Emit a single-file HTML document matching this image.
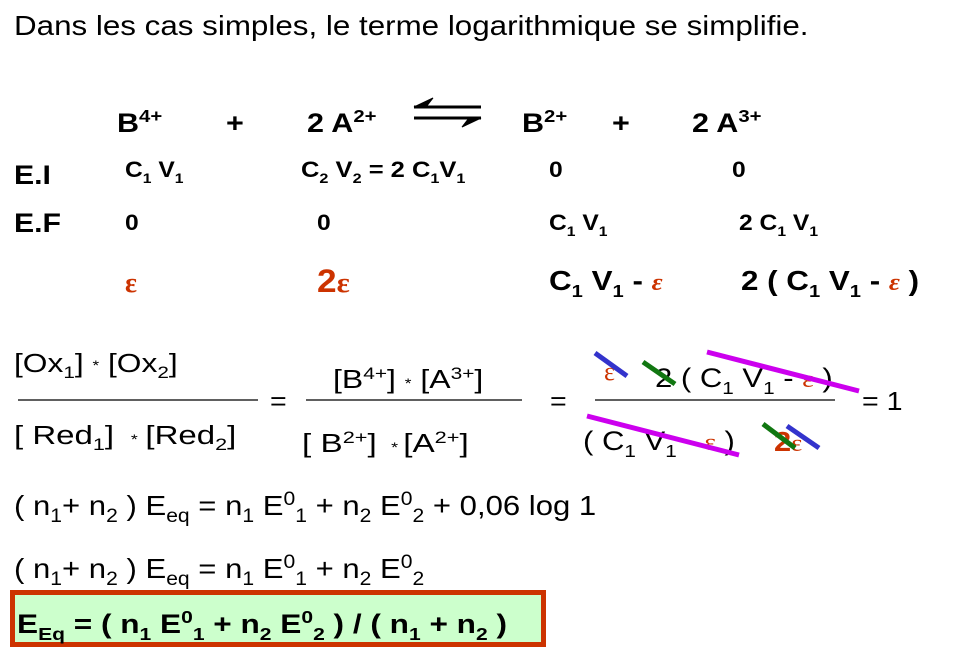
<!DOCTYPE html>
<html><head><meta charset="utf-8"><style>
html,body{margin:0;padding:0;background:#fff;}
svg{display:block;font-family:"Liberation Sans",Arial,sans-serif;}
.r{fill:#cc3300;}
.eps{font-family:"Liberation Serif",serif;fill:#cc3300;}
</style></head><body>
<svg width="963" height="649" viewBox="0 0 963 649" xmlns="http://www.w3.org/2000/svg">
<rect width="963" height="649" fill="#fff"/>
<text transform="translate(14,35) scale(1.12,1)" font-size="28">Dans les cas simples, le terme logarithmique se simplifie.</text>

<!-- reaction -->
<g font-weight="bold" font-size="27">
<text transform="translate(117,132) scale(1.13,1)">B<tspan dy="-10" font-size="18">4+</tspan></text>
<text transform="translate(226,132) scale(1.13,1)">+</text>
<text transform="translate(307,132) scale(1.13,1)">2 A<tspan dy="-10" font-size="18">2+</tspan></text>
<text transform="translate(522,132) scale(1.13,1)">B<tspan dy="-10" font-size="18">2+</tspan></text>
<text transform="translate(612,132) scale(1.13,1)">+</text>
<text transform="translate(692,132) scale(1.13,1)">2 A<tspan dy="-10" font-size="18">3+</tspan></text>
</g>
<g stroke="#000" stroke-width="3" fill="#000">
<line x1="414" y1="107" x2="481" y2="107"/>
<line x1="414" y1="118" x2="481" y2="118"/>
<polygon points="414,107 433,98 426,107" stroke-width="1"/>
<polygon points="481,118 462,127 469,118" stroke-width="1"/>
</g>

<g font-weight="bold">
<text transform="translate(14,184) scale(1.12,1)" font-size="27">E.I</text>
<text transform="translate(14,232) scale(1.12,1)" font-size="27">E.F</text>
<g font-size="22">
<text transform="translate(125,177) scale(1.12,1)">C<tspan dy="6" font-size="14">1</tspan><tspan dy="-6"> V</tspan><tspan dy="6" font-size="14">1</tspan></text>
<text transform="translate(301,177) scale(1.16,1)">C<tspan dy="6" font-size="14">2</tspan><tspan dy="-6"> V</tspan><tspan dy="6" font-size="14">2</tspan><tspan dy="-6"> = 2 C</tspan><tspan dy="6" font-size="14">1</tspan><tspan dy="-6">V</tspan><tspan dy="6" font-size="14">1</tspan></text>
<text transform="translate(549,177) scale(1.12,1)">0</text>
<text transform="translate(732,177) scale(1.12,1)">0</text>
<text transform="translate(125,230) scale(1.12,1)">0</text>
<text transform="translate(317,230) scale(1.12,1)">0</text>
<text transform="translate(549,230) scale(1.12,1)">C<tspan dy="6" font-size="14">1</tspan><tspan dy="-6"> V</tspan><tspan dy="6" font-size="14">1</tspan></text>
<text transform="translate(739,230) scale(1.12,1)">2 C<tspan dy="6" font-size="14">1</tspan><tspan dy="-6"> V</tspan><tspan dy="6" font-size="14">1</tspan></text>
</g>
<text x="125" y="292" font-size="28" class="eps">ε</text>
<text transform="translate(317,292) scale(1.1,1)" font-size="32" class="r">2<tspan class="eps" font-size="28">ε</tspan></text>
<text transform="translate(549,290) scale(1.12,1)" font-size="28">C<tspan dy="7" font-size="18">1</tspan><tspan dy="-7"> V</tspan><tspan dy="7" font-size="18">1</tspan><tspan dy="-7"> - </tspan><tspan class="eps" font-style="italic" font-size="24">ε</tspan></text>
<text transform="translate(741,290) scale(1.12,1)" font-size="28">2 ( C<tspan dy="7" font-size="18">1</tspan><tspan dy="-7"> V</tspan><tspan dy="7" font-size="18">1</tspan><tspan dy="-7"> - </tspan><tspan class="eps" font-style="italic" font-size="24">ε</tspan><tspan> )</tspan></text>
</g>

<!-- fractions -->
<g font-size="26">
<text transform="translate(14,372) scale(1.22,1)">[Ox<tspan dy="6" font-size="17">1</tspan><tspan dy="-6">] </tspan><tspan font-size="14" dy="-2">*</tspan><tspan dy="2"> [Ox</tspan><tspan dy="6" font-size="17">2</tspan><tspan dy="-6">]</tspan></text>
<text transform="translate(14,444) scale(1.27,1)">[ Red<tspan dy="6" font-size="17">1</tspan><tspan dy="-6">]  </tspan><tspan font-size="14" dx="6">*</tspan><tspan dx="6">[Red</tspan><tspan dy="6" font-size="17">2</tspan><tspan dy="-6">]</tspan></text>
<text transform="translate(270,410) scale(1.1,1)">=</text>
<text transform="translate(333,388) scale(1.23,1)">[B<tspan dy="-9" font-size="17">4+</tspan><tspan dy="9">] </tspan><tspan font-size="14">*</tspan><tspan> [A</tspan><tspan dy="-9" font-size="17">3+</tspan><tspan dy="9">]</tspan></text>
<text transform="translate(302,452) scale(1.28,1)">[ B<tspan dy="-9" font-size="17">2+</tspan><tspan dy="9">]  </tspan><tspan font-size="14" dx="4">*</tspan><tspan dx="4">[A</tspan><tspan dy="-9" font-size="17">2+</tspan><tspan dy="9">]</tspan></text>
<text transform="translate(550,410) scale(1.1,1)">=</text>
<text transform="translate(862,410) scale(1.1,1)">=  1</text>
<text transform="translate(655,387) scale(1.15,1)" font-size="27">2 ( C<tspan dy="7" font-size="18">1</tspan><tspan dy="-7"> V</tspan><tspan dy="7" font-size="18">1</tspan><tspan dy="-7"> - </tspan><tspan class="eps" font-size="24">ε</tspan><tspan> )</tspan></text>
<text x="604" y="380" class="eps" font-size="26">ε</text>
<text transform="translate(583,450) scale(1.15,1)" font-size="27">( C<tspan dy="7" font-size="18">1</tspan><tspan dy="-7"> V</tspan><tspan dy="7" font-size="18">1</tspan><tspan dy="-7"> - </tspan><tspan class="eps" font-size="24">ε</tspan><tspan> )</tspan></text>
<text transform="translate(774,451) scale(1.1,1)" class="r" font-weight="bold" font-size="28">2<tspan class="eps" font-size="24" font-weight="normal">ε</tspan></text>
</g>
<g stroke="#000" stroke-width="1.3">
<line x1="18" y1="400" x2="258" y2="400"/>
<line x1="306" y1="400" x2="522" y2="400"/>
<line x1="595" y1="400" x2="835" y2="400"/>
</g>
<g stroke-width="5">
<line x1="595" y1="353" x2="627" y2="376" stroke="#3333cc"/>
<line x1="643" y1="362" x2="675" y2="384" stroke="#117711"/>
<line x1="707" y1="352" x2="859" y2="391" stroke="#cc00ee"/>
<line x1="587" y1="416" x2="739" y2="455" stroke="#cc00ee"/>
<line x1="763" y1="424" x2="795" y2="448" stroke="#117711"/>
<line x1="787" y1="426" x2="819" y2="448" stroke="#3333cc"/>
</g>

<!-- equations -->
<g font-size="28">
<text transform="translate(14,515) scale(1.11,1)">( n<tspan dy="7" font-size="19">1</tspan><tspan dy="-7">+ n</tspan><tspan dy="7" font-size="19">2</tspan><tspan dy="-7"> ) E</tspan><tspan dy="7" font-size="19">eq</tspan><tspan dy="-7"> = n</tspan><tspan dy="7" font-size="19">1</tspan><tspan dy="-7"> E</tspan><tspan dy="-10" font-size="19">0</tspan><tspan dy="17" font-size="19">1</tspan><tspan dy="-7"> + n</tspan><tspan dy="7" font-size="19">2</tspan><tspan dy="-7"> E</tspan><tspan dy="-10" font-size="19">0</tspan><tspan dy="17" font-size="19">2</tspan><tspan dy="-7"> + 0,06 log 1</tspan></text>
<text transform="translate(14,578) scale(1.11,1)">( n<tspan dy="7" font-size="19">1</tspan><tspan dy="-7">+ n</tspan><tspan dy="7" font-size="19">2</tspan><tspan dy="-7"> ) E</tspan><tspan dy="7" font-size="19">eq</tspan><tspan dy="-7"> = n</tspan><tspan dy="7" font-size="19">1</tspan><tspan dy="-7"> E</tspan><tspan dy="-10" font-size="19">0</tspan><tspan dy="17" font-size="19">1</tspan><tspan dy="-7"> + n</tspan><tspan dy="7" font-size="19">2</tspan><tspan dy="-7"> E</tspan><tspan dy="-10" font-size="19">0</tspan><tspan dy="17" font-size="19">2</tspan></text>
</g>
<rect x="12.5" y="592.5" width="531" height="52" fill="#ccffcc" stroke="#cc3300" stroke-width="5"/>
<text transform="translate(17,633) scale(1.17,1)" font-size="27" font-weight="bold">E<tspan dy="7" font-size="18">Eq</tspan><tspan dy="-7"> = ( n</tspan><tspan dy="7" font-size="18">1</tspan><tspan dy="-7"> E</tspan><tspan dy="-10" font-size="18">0</tspan><tspan dy="17" font-size="18">1</tspan><tspan dy="-7"> + n</tspan><tspan dy="7" font-size="18">2</tspan><tspan dy="-7"> E</tspan><tspan dy="-10" font-size="18">0</tspan><tspan dy="17" font-size="18">2</tspan><tspan dy="-7"> ) / ( n</tspan><tspan dy="7" font-size="18">1</tspan><tspan dy="-7"> + n</tspan><tspan dy="7" font-size="18">2</tspan><tspan dy="-7"> )</tspan></text>
</svg>
</body></html>
